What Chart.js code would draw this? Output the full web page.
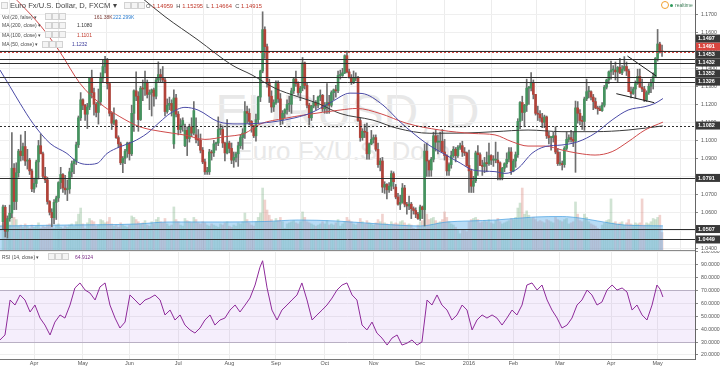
<!DOCTYPE html>
<html>
<head>
<meta charset="utf-8">
<script src="https://cdn.jsdelivr.net/npm/chart.js@4.4.1/dist/chart.umd.min.js"></script>
<style>
  html, body { margin: 0; padding: 0; background: #fff; }
  body { width: 720px; height: 366px; position: relative; overflow: hidden; font-family: "Liberation Sans", Arial, sans-serif; }
  canvas { position: absolute; left: 0; z-index: 1; }
  #main { top: 0; }
  #rsi { top: 251px; }
  .wm { position: absolute; left: 0; width: 695px; text-align: center; color: #e8e8e8; white-space: nowrap; line-height: 1; z-index: 0; }
  .lg { position: absolute; white-space: nowrap; color: #4a4a4a; z-index: 2; font-size: 5px; line-height: 6px; }
  .ib { position: absolute; width: 5px; height: 5px; border: 1px solid #d2d2d2; background: #f4f4f4; z-index: 2; }
</style>
</head>
<body>
<div class="wm" style="top:88px;font-size:48px;">EURUSD, D</div>
<div class="wm" style="top:138px;font-size:26px;">Euro Fx/U.S. Dollar</div>

<canvas id="main" width="720" height="251"></canvas>
<canvas id="rsi" width="720" height="115"></canvas>

<!-- legend -->
<div class="ib" style="left:1px;top:2px;"></div>
<div class="lg" style="left:10px;top:1px;font-size:7.6px;line-height:10px;color:#444;">Euro Fx/U.S. Dollar, D, FXCM ▾</div>
<div class="ib" style="left:124px;top:2px;"></div><div class="ib" style="left:131px;top:2px;"></div><div class="ib" style="left:138px;top:2px;"></div>
<div class="lg" style="left:146px;top:2.5px;font-size:5.8px;line-height:7px;">O <span style="color:#c0392b">1.14959</span>&nbsp; H <span style="color:#c0392b">1.15295</span>&nbsp; L <span style="color:#c0392b">1.14664</span>&nbsp; C <span style="color:#c0392b">1.14915</span></div>

<div class="lg" style="left:2px;top:13.7px;">Vol (20, false) ▾</div>
<div class="ib" style="left:45px;top:13.2px;"></div><div class="ib" style="left:52px;top:13.2px;"></div><div class="ib" style="left:59px;top:13.2px;"></div>
<div class="lg" style="left:94px;top:13.7px;color:#7a3b36;">161.38K</div>
<div class="lg" style="left:113px;top:13.7px;color:#2f7fd0;">222.299K</div>

<div class="lg" style="left:2px;top:22.3px;">MA (200, close) ▾</div>
<div class="ib" style="left:45px;top:21.8px;"></div><div class="ib" style="left:52px;top:21.8px;"></div><div class="ib" style="left:59px;top:21.8px;"></div>
<div class="lg" style="left:77px;top:22.3px;color:#333;">1.1080</div>

<div class="lg" style="left:2px;top:31.7px;">MA (100, close) ▾</div>
<div class="ib" style="left:45px;top:31.2px;"></div><div class="ib" style="left:52px;top:31.2px;"></div><div class="ib" style="left:59px;top:31.2px;"></div>
<div class="lg" style="left:77px;top:31.7px;color:#c0392b;">1.1101</div>

<div class="lg" style="left:2px;top:41px;">MA (50, close) ▾</div>
<div class="ib" style="left:42px;top:40.5px;"></div><div class="ib" style="left:49px;top:40.5px;"></div><div class="ib" style="left:56px;top:40.5px;"></div>
<div class="lg" style="left:72px;top:41px;color:#3a3a9a;">1.1232</div>

<div class="lg" style="left:2px;top:253.7px;">RSI (14, close) ▾</div>
<div class="ib" style="left:48px;top:253.2px;"></div><div class="ib" style="left:55px;top:253.2px;"></div><div class="ib" style="left:62px;top:253.2px;"></div>
<div class="lg" style="left:75px;top:253.7px;color:#7b2b86;">64.9124</div>

<div style="position:absolute;left:661px;top:1px;width:6px;height:6px;border:1px solid #f0a030;border-radius:50%;z-index:2;"></div>
<div style="position:absolute;left:670px;top:3.5px;width:3px;height:3px;background:#2e9a5c;border-radius:50%;z-index:2;"></div>
<div class="lg" style="left:675px;top:2px;color:#3f7f5a;font-size:5px;">realtime</div>

<script>
// EUR/USD daily, 12 Mar 2015 .. 4 May 2016 (one line per month)
const opens = [
  1.0548,1.0628,1.0495,1.0565,1.0595,1.0845,1.0660,1.0820,1.0940,1.0915,1.0965,1.0885,1.0890,1.0830,
  1.0730,1.0760,1.0880,1.0970,1.0925,1.0800,1.0780,1.0660,1.0600,1.0570,1.0655,1.0680,1.0765,1.0810,1.0735,1.0725,1.0730,1.0825,1.0870,1.0885,1.0975,1.1125,
  1.1225,1.1195,1.1145,1.1185,1.1345,1.1265,1.1200,1.1155,1.1215,1.1345,1.1410,1.1445,1.1315,1.1150,1.1095,1.1110,1.1015,1.0980,1.0875,1.0900,1.0940,
  1.0985,1.0925,1.1150,1.1275,1.1245,1.1115,1.1290,1.1285,1.1320,1.1255,1.1265,1.1280,1.1245,1.1335,1.1365,1.1350,1.1335,1.1160,1.1195,1.1205,1.0980,1.1235,
  1.1145,1.1060,1.1085,1.0970,1.1055,1.1010,1.1075,1.1040,1.1030,1.1005,1.1000,1.0945,1.0880,1.0825,1.0825,1.0935,1.0930,1.0980,1.0985,1.1060,1.1060,1.0985,1.0930,
  1.0985,1.0955,1.0890,1.0905,1.0925,1.0970,1.1015,1.1040,1.1160,1.1150,1.1105,1.1080,1.1025,1.1115,1.1240,1.1385,1.1615,1.1520,1.1320,1.1245,1.1185,
  1.1210,1.1315,1.1230,1.1115,1.1150,1.1170,1.1200,1.1200,1.1275,1.1340,1.1315,1.1265,1.1290,1.1430,1.1305,1.1195,1.1125,1.1190,1.1210,1.1195,1.1240,1.1250,
  1.1175,1.1195,1.1210,1.1195,1.1265,1.1280,1.1275,1.1360,1.1360,1.1375,1.1470,1.1380,1.1350,1.1320,1.1345,1.1345,1.1110,1.1015,1.1050,1.1045,1.0925,1.0980,
  1.1005,1.1015,1.0950,1.0865,1.0885,1.0740,1.0755,1.0725,1.0745,1.0815,1.0740,1.0685,1.0645,1.0655,1.0735,1.0645,1.0635,1.0645,1.0620,1.0610,1.0590,
  1.0565,1.0630,1.0615,1.0940,1.0885,1.0835,1.0895,1.1025,1.0990,1.0990,1.0995,1.0935,1.0915,1.0830,1.0865,1.0915,1.0950,1.0915,1.0960,1.0970,1.0935,1.0930,
  1.0860,1.0830,1.0745,1.0775,1.0930,1.0920,1.0860,1.0855,1.0875,1.0870,1.0915,1.0890,1.0890,1.0890,1.0875,1.0795,1.0845,1.0870,1.0895,1.0935,
  1.0830,1.0885,1.0920,1.1105,1.1210,1.1155,1.1195,1.1290,1.1290,1.1320,1.1255,1.1150,1.1145,1.1125,1.1100,1.1130,1.1025,1.1015,1.1015,1.1025,1.0935,
  1.0870,1.0870,1.0865,1.0955,1.1005,1.1015,1.1005,1.0995,1.1180,1.1150,1.1110,1.1105,1.1230,1.1270,1.1270,1.1240,1.1215,1.1180,1.1175,1.1165,1.1195,1.1295,1.1335,
  1.1380,1.1390,1.1390,1.1380,1.1405,1.1375,1.1395,1.1410,1.1385,1.1270,1.1260,1.1285,1.1315,1.1355,1.1295,1.1285,1.1225,1.1265,1.1300,1.1320,1.1355,
  1.1455,1.1535,1.14959
];
const highs = [
  1.0640,1.0638,1.0580,1.0640,1.1043,1.0870,1.0875,1.0950,1.1030,1.0985,1.1050,1.0950,1.0900,1.0840,
  1.0790,1.0890,1.1000,1.1035,1.0935,1.0850,1.0795,1.0665,1.0620,1.0670,1.0690,1.0770,1.0850,1.0815,1.0805,1.0780,1.0845,1.0885,1.0895,1.0990,1.1135,1.1265,
  1.1230,1.1200,1.1205,1.1350,1.1390,1.1290,1.1210,1.1285,1.1375,1.1445,1.1467,1.1455,1.1320,1.1155,1.1180,1.1115,1.1025,1.0990,1.0910,1.0950,1.0990,
  1.0990,1.1195,1.1280,1.1380,1.1270,1.1300,1.1335,1.1385,1.1335,1.1280,1.1285,1.1290,1.1350,1.1436,1.1395,1.1410,1.1345,1.1230,1.1240,1.1225,1.1280,1.1255,
  1.1160,1.1120,1.1125,1.1090,1.1075,1.1090,1.1125,1.1215,1.1125,1.1060,1.1035,1.0960,1.0895,1.0850,1.0950,1.0945,1.1000,1.0990,1.1130,1.1090,1.1080,1.0990,1.1115,
  1.0995,1.0985,1.0935,1.0935,1.0990,1.1030,1.1065,1.1215,1.1190,1.1175,1.1110,1.1085,1.1145,1.1245,1.1390,1.1714,1.1630,1.1535,1.1340,1.1275,1.1225,
  1.1330,1.1330,1.1260,1.1165,1.1175,1.1225,1.1245,1.1290,1.1345,1.1385,1.1325,1.1300,1.1460,1.1435,1.1320,1.1205,1.1195,1.1250,1.1220,1.1245,1.1280,1.1255,
  1.1210,1.1315,1.1250,1.1275,1.1285,1.1305,1.1385,1.1390,1.1400,1.1475,1.1495,1.1395,1.1365,1.1385,1.1375,1.1355,1.1125,1.1065,1.1090,1.1095,1.0985,1.1055,
  1.1030,1.1030,1.0985,1.0900,1.0905,1.0770,1.0760,1.0765,1.0830,1.0825,1.0755,1.0705,1.0695,1.0760,1.0750,1.0655,1.0690,1.0655,1.0630,1.0625,1.0600,
  1.0640,1.0635,1.0980,1.0985,1.0890,1.0905,1.1045,1.1060,1.1030,1.1045,1.1060,1.1005,1.0920,1.0875,1.0940,1.0965,1.0960,1.0970,1.0985,1.0995,1.0960,1.0935,
  1.0945,1.0840,1.0800,1.0940,1.0970,1.0930,1.0890,1.0905,1.0935,1.0985,1.0920,1.0915,1.0990,1.0935,1.0880,1.0850,1.0875,1.0930,1.0960,1.0960,
  1.0895,1.0935,1.1120,1.1215,1.1245,1.1200,1.1340,1.1300,1.1376,1.1335,1.1255,1.1190,1.1165,1.1150,1.1140,1.1135,1.1045,1.1020,1.1045,1.1075,1.0955,
  1.0935,1.0885,1.0965,1.1045,1.1030,1.1055,1.1045,1.1218,1.1215,1.1170,1.1135,1.1240,1.1340,1.1300,1.1275,1.1255,1.1235,1.1190,1.1190,1.1210,1.1305,1.1340,1.1385,
  1.1440,1.1415,1.1435,1.1410,1.1455,1.1415,1.1465,1.1435,1.1395,1.1295,1.1295,1.1330,1.1395,1.1395,1.1340,1.1300,1.1275,1.1315,1.1340,1.1375,1.1460,
  1.1616,1.1545,1.15295
];
const lows = [
  1.0505,1.0463,1.0457,1.0550,1.0570,1.0615,1.0615,1.0795,1.0885,1.0890,1.0860,1.0840,1.0810,1.0715,
  1.0710,1.0740,1.0785,1.0925,1.0790,1.0765,1.0645,1.0585,1.0520,1.0535,1.0560,1.0660,1.0730,1.0710,1.0700,1.0665,1.0705,1.0795,1.0815,1.0865,1.0960,1.1110,
  1.1170,1.1110,1.1065,1.1170,1.1235,1.1140,1.1130,1.1090,1.1195,1.1325,1.1375,1.1285,1.1135,1.1060,1.1085,1.1010,1.0960,1.0865,1.0820,1.0870,1.0905,
  1.0890,1.0915,1.1050,1.1220,1.1050,1.1110,1.1220,1.1250,1.1235,1.1170,1.1135,1.1190,1.1230,1.1320,1.1320,1.1320,1.1135,1.1150,1.1170,1.1135,1.0955,1.1130,
  1.1030,1.1040,1.1050,1.0965,1.0915,1.0990,1.1020,1.1030,1.0985,1.0970,1.0930,1.0870,1.0810,1.0810,1.0810,1.0890,1.0910,1.0945,1.0970,1.1030,1.0960,1.0885,1.0925,
  1.0930,1.0870,1.0850,1.0880,1.0855,1.0955,1.0950,1.1010,1.1095,1.1085,1.1045,1.1015,1.0995,1.1095,1.1215,1.1375,1.1455,1.1295,1.1210,1.1155,1.1160,
  1.1200,1.1210,1.1085,1.1090,1.1125,1.1145,1.1160,1.1150,1.1260,1.1300,1.1250,1.1220,1.1275,1.1285,1.1180,1.1085,1.1110,1.1180,1.1170,1.1180,1.1220,1.1160,
  1.1150,1.1150,1.1150,1.1185,1.1225,1.1240,1.1265,1.1340,1.1355,1.1370,1.1375,1.1345,1.1310,1.1315,1.1330,1.1105,1.0995,1.1000,1.1015,1.0895,1.0895,1.0975,
  1.0985,1.0940,1.0850,1.0830,1.0710,1.0705,1.0675,1.0710,1.0720,1.0730,1.0675,1.0640,1.0615,1.0650,1.0630,1.0590,1.0615,1.0565,1.0590,1.0570,1.0560,
  1.0555,1.0565,1.0524,1.0800,1.0800,1.0800,1.0880,1.0940,1.0925,1.0940,1.0935,1.0890,1.0805,1.0805,1.0845,1.0905,1.0880,1.0905,1.0950,1.0910,1.0915,1.0855,
  1.0710,1.0710,1.0710,1.0765,1.0805,1.0860,1.0805,1.0820,1.0825,1.0860,1.0865,1.0855,1.0875,1.0780,1.0780,1.0780,1.0825,1.0850,1.0880,1.0810,
  1.0825,1.0850,1.0905,1.1065,1.1110,1.1075,1.1160,1.1200,1.1275,1.1230,1.1140,1.1110,1.1105,1.1070,1.1070,1.1010,1.0980,1.0945,1.0990,1.0925,1.0860,
  1.0860,1.0835,1.0850,1.0945,1.0990,1.0990,1.0965,1.0822,1.1095,1.1085,1.1060,1.1055,1.1220,1.1235,1.1225,1.1170,1.1175,1.1145,1.1165,1.1160,1.1185,1.1285,1.1315,
  1.1340,1.1365,1.1335,1.1325,1.1370,1.1365,1.1385,1.1360,1.1270,1.1235,1.1255,1.1235,1.1310,1.1295,1.1270,1.1215,1.1215,1.1255,1.1265,1.1285,1.1350,
  1.1440,1.1485,1.14664
];
const closes = [
  1.0630,1.0495,1.0565,1.0595,1.0845,1.0660,1.0820,1.0940,1.0915,1.0965,1.0885,1.0890,1.0830,1.0730,
  1.0760,1.0880,1.0970,1.0925,1.0800,1.0780,1.0660,1.0600,1.0570,1.0655,1.0680,1.0765,1.0810,1.0735,1.0725,1.0730,1.0825,1.0870,1.0885,1.0975,1.1125,1.1225,
  1.1195,1.1145,1.1185,1.1345,1.1265,1.1200,1.1155,1.1215,1.1345,1.1410,1.1445,1.1315,1.1150,1.1095,1.1110,1.1015,1.0980,1.0875,1.0900,1.0940,1.0985,
  1.0925,1.1150,1.1275,1.1245,1.1115,1.1290,1.1285,1.1320,1.1255,1.1265,1.1280,1.1245,1.1335,1.1365,1.1350,1.1335,1.1160,1.1195,1.1205,1.1165,1.1235,1.1145,
  1.1060,1.1085,1.1110,1.1055,1.1010,1.1075,1.1040,1.1165,1.1005,1.1000,1.0945,1.0880,1.0825,1.0825,1.0935,1.0930,1.0980,1.0985,1.1060,1.1060,1.0985,1.0930,1.0985,
  1.0955,1.0890,1.0905,1.0925,1.0970,1.1015,1.1040,1.1160,1.1150,1.1105,1.1080,1.1025,1.1115,1.1240,1.1385,1.1615,1.1520,1.1320,1.1245,1.1185,1.1210,
  1.1315,1.1230,1.1115,1.1150,1.1170,1.1200,1.1200,1.1275,1.1340,1.1315,1.1265,1.1290,1.1430,1.1305,1.1195,1.1125,1.1190,1.1210,1.1195,1.1240,1.1250,1.1175,
  1.1195,1.1210,1.1195,1.1265,1.1280,1.1275,1.1360,1.1360,1.1375,1.1470,1.1380,1.1350,1.1320,1.1345,1.1345,1.1110,1.1015,1.1050,1.1045,1.0925,1.0980,1.1005,
  1.1015,1.0950,1.0865,1.0885,1.0740,1.0755,1.0725,1.0745,1.0815,1.0770,1.0685,1.0645,1.0655,1.0735,1.0645,1.0635,1.0645,1.0620,1.0610,1.0590,1.0565,
  1.0630,1.0615,1.0940,1.0885,1.0835,1.0895,1.1025,1.0990,1.0990,1.0995,1.0935,1.0915,1.0830,1.0865,1.0915,1.0950,1.0915,1.0960,1.0970,1.0935,1.0930,1.0860,
  1.0830,1.0745,1.0775,1.0930,1.0920,1.0860,1.0855,1.0875,1.0870,1.0915,1.0890,1.0890,1.0890,1.0875,1.0795,1.0845,1.0870,1.0895,1.0935,1.0830,
  1.0885,1.0920,1.1105,1.1210,1.1155,1.1195,1.1290,1.1290,1.1320,1.1255,1.1150,1.1145,1.1125,1.1100,1.1130,1.1025,1.1015,1.1015,1.1025,1.0935,1.0870,
  1.0870,1.0865,1.0955,1.1005,1.1015,1.1005,1.0995,1.1180,1.1150,1.1110,1.1105,1.1230,1.1270,1.1270,1.1240,1.1215,1.1180,1.1175,1.1165,1.1195,1.1295,1.1335,1.1380,
  1.1390,1.1390,1.1380,1.1405,1.1375,1.1395,1.1410,1.1385,1.1270,1.1260,1.1285,1.1315,1.1355,1.1295,1.1285,1.1225,1.1265,1.1300,1.1320,1.1355,1.1455,
  1.1535,1.1496,1.14915
];
// volume in thousands
const volumes = [
  240,260,250,230,330,300,280,220,230,210,240,220,200,230,
  210,220,250,200,220,210,230,240,220,200,230,240,210,200,220,210,230,240,220,260,330,386,
  240,200,250,290,270,260,220,230,280,270,250,260,300,240,220,230,210,250,230,220,210,
  230,313,300,280,260,240,250,270,230,220,260,240,280,300,260,250,290,240,220,230,396,280,
  260,230,220,290,270,260,250,300,280,250,240,260,250,230,220,240,230,220,210,240,230,250,260,
  220,210,230,220,250,240,260,340,280,250,230,220,260,300,340,570,460,368,320,280,260,
  290,270,300,260,200,240,250,260,270,250,240,260,350,300,260,250,240,230,220,230,240,260,
  240,270,230,240,230,250,280,220,240,260,300,276,260,240,230,250,290,260,240,270,250,240,
  230,250,280,260,330,250,240,230,260,240,250,240,260,270,250,230,240,230,200,190,230,
  260,270,414,330,280,290,300,270,250,260,280,350,300,260,240,230,210,180,150,190,180,170,
  260,280,290,300,280,250,260,270,260,280,250,240,270,290,260,240,250,260,270,290,
  280,300,386,432,570,330,360,320,290,300,280,260,270,260,250,280,270,260,250,300,280,
  270,260,280,290,240,250,260,442,330,270,260,330,300,260,240,230,220,200,190,230,250,270,280,
  470,250,260,240,250,260,230,250,280,240,230,250,240,250,470,230,250,240,260,290,280,
  300,320,161
];
// [bar index, value]
const volMA = [[-1.4,221],[30,230],[60,239],[75,258],[99,258],[118,262],[133,276],[150,267],[170,239],[188,221],[200,258],[210,267],[222,276],[240,304],[252,308],[260,294],[268,267],[280,230],[297.4,222]];
const ma50 = [[-1.4,1.1391],[3.2,1.1298],[7.7,1.1205],[13.5,1.1094],[21.2,1.0983],[28.8,1.0927],[33.3,1.0881],[37.9,1.0866],[42.4,1.0872],[46.9,1.0927],[52.7,1.0964],[58.6,1.0992],[64.9,1.1038],[70.8,1.1103],[75.3,1.1149],[82,1.1183],[87.9,1.1168],[96.9,1.1104],[105.9,1.1091],[114.9,1.1094],[122.6,1.1104],[131.6,1.1125],[139.3,1.1155],[148.3,1.1215],[156.4,1.1262],[161.8,1.1260],[171.2,1.1196],[178.9,1.1103],[184.8,1.1040],[191.1,1.0980],[196.9,1.0937],[206,1.0874],[211.8,1.0835],[221.7,1.0826],[226.2,1.0816],[232.1,1.0844],[238.4,1.0928],[244.3,1.0965],[251.9,1.0974],[259.1,1.0992],[266.8,1.1039],[274.5,1.1113],[281.7,1.1168],[289.3,1.1187],[293.8,1.1205],[297.4,1.1232]];
const ma100 = [[3,1.1820],[16.7,1.1640],[25.7,1.1490],[34.7,1.1316],[43.7,1.1205],[52.7,1.1131],[61.7,1.1075],[70.8,1.1050],[82,1.1029],[91,1.1005],[100,1.1020],[109,1.1039],[115.8,1.1090],[127,1.1122],[136,1.1141],[151.9,1.1168],[159.5,1.1177],[169.9,1.1149],[182,1.1094],[196.9,1.1057],[211.8,1.1038],[221.7,1.1030],[229.4,1.0992],[236.6,1.0968],[244.3,1.0968],[251.9,1.0946],[259.1,1.0928],[266.8,1.0918],[274.5,1.0937],[281.7,1.0992],[289.3,1.1057],[297.4,1.1101]];
const ma200 = [[61.7,1.1800],[73,1.1687],[87.9,1.1557],[103.2,1.1418],[112.2,1.1363],[122.6,1.1289],[132.9,1.1242],[142,1.1205],[151.9,1.1149],[166.7,1.1112],[177.6,1.1067],[192.4,1.1039],[207.3,1.1040],[221.7,1.1048],[236.6,1.1057],[251.9,1.1048],[266.8,1.1048],[281.7,1.1057],[297.4,1.1080]];
const rsi = [[-1.4,31.6],[0.9,35.5],[3.2,62.6],[5.4,58.7],[7.7,66.5],[9.9,62.6],[12.2,53.3],[14.4,58.7],[16.7,48.6],[18.9,43.2],[21.2,35.5],[23.4,45.5],[25.7,51.0],[27.9,48.6],[30.2,58.7],[32.4,71.9],[34.7,75.8],[37,70.3],[39.2,68.0],[41.5,62.6],[43.7,72.7],[46,75.8],[48.2,58.7],[50.5,48.6],[52.7,40.9],[55,45.5],[57.2,66.5],[59.5,62.6],[61.7,58.7],[64,62.6],[66.2,64.1],[68.5,66.5],[70.8,62.6],[73,51.0],[75.3,54.8],[77.5,47.1],[79.8,51.0],[82,43.2],[84.3,39.4],[86.5,37.0],[88.8,40.9],[91,47.1],[93.3,51.0],[95.5,43.2],[97.8,47.1],[100,48.6],[102.3,54.8],[104.6,58.7],[106.8,53.3],[109.1,58.7],[111.3,64.1],[113.6,74.2],[115.8,88.0],[117,93.0],[119,72.0],[121.2,54.8],[123.5,47.1],[125.7,54.8],[128,58.7],[130.2,62.6],[132.5,66.5],[134.7,75.8],[137,62.6],[139.3,47.1],[141.5,51.0],[143.8,54.8],[146,58.7],[148.3,64.1],[150.5,70.3],[152.8,74.2],[155,75.8],[157.3,66.5],[159.5,62.6],[161.8,43.2],[164,39.4],[166.3,45.5],[168.5,37.0],[170.8,33.1],[173.1,27.7],[175.3,33.1],[177.6,35.5],[179.8,27.7],[182.1,29.2],[184.3,31.6],[186.6,27.7],[188.8,30.1],[191.1,62.6],[193.3,58.7],[195.6,66.5],[197.8,58.7],[200.1,54.8],[202.3,47.1],[204.6,51.0],[206.9,58.7],[209.1,54.8],[211.4,39.4],[213.6,47.1],[215.9,51.0],[218.1,48.6],[220.4,51.0],[222.6,48.6],[224.9,43.2],[227.1,48.6],[229.4,54.8],[231.6,51.0],[233.9,58.7],[236.1,74.2],[238.4,75.8],[240.7,70.3],[242.9,74.2],[245.2,62.6],[247.4,54.8],[249.7,48.6],[251.9,40.9],[254.2,43.2],[256.4,48.6],[258.7,58.7],[260.9,62.6],[263.2,70.3],[265.4,66.5],[267.7,58.7],[269.9,61.0],[272.2,70.3],[274.5,74.2],[276.7,70.3],[279,71.9],[281.2,68.8],[283.5,54.8],[285.7,58.7],[288,51.0],[290.2,47.1],[292.5,58.7],[294.7,74.2],[296.1,71.0],[297.4,64.9]];

const levels = [1.1497, 1.1453, 1.1432, 1.1352, 1.1326, 1.1082, 1.0791, 1.0507, 1.0449];
const dottedLevel = 1.1082;
const lastPrice = 1.1491;
const trendUpper = [[281.4, 1.1468], [294.4, 1.1357]];
const trendLower = [[276.4, 1.1259], [293.5, 1.1209]];
const priceTicks = [1.04,1.05,1.06,1.07,1.08,1.09,1.10,1.11,1.12,1.13,1.14,1.15,1.16,1.17];
const rsiTicks = [20,30,40,50,60,70,80,90,100];
const monthNames = ["Jan","Feb","Mar","Apr","May","Jun","Jul","Aug","Sep","Oct","Nov","Dec"];

// trading days (no weekends, no Christmas / New Year)
const holidays = ["2015-12-25", "2016-01-01"];
const dates = [];
let d = new Date(Date.UTC(2015, 2, 12));
while (dates.length < closes.length) {
  const s = d.toISOString().slice(0, 10);
  const wd = d.getUTCDay();
  if (wd !== 0 && wd !== 6 && !holidays.includes(s)) dates.push(s);
  d.setUTCDate(d.getUTCDate() + 1);
}
const monthTicks = [];
const monthLabels = [];
for (let i = 1; i < dates.length; i++) {
  if (dates[i].slice(5, 7) !== dates[i - 1].slice(5, 7)) {
    const m = +dates[i].slice(5, 7);
    monthTicks.push(i);
    monthLabels.push(m === 1 ? dates[i].slice(0, 4) : monthNames[m - 1]);
  }
}

const UP = '#45935f', DOWN = '#b2433a', WICK = '#6f6f6f';
const isUp = i => closes[i] >= opens[i];
const pts = arr => arr.map(p => ({ x: p[0], y: p[1] }));
const FONT = 'Liberation Sans';
const X_MIN = -1.35, X_MAX = 311.85;
const P_MIN = 1.039056, P_MAX = 1.177944;

const fitY = s => { s.width = 25; s.paddingTop = 0; s.paddingBottom = 0; };

const levelsPlugin = {
  id: 'levels',
  afterDatasetsDraw(chart) {
    const { ctx, chartArea: a, scales: { y } } = chart;
    ctx.save();
    ctx.beginPath();
    ctx.rect(a.left, a.top, a.width, a.height);
    ctx.clip();
    levels.forEach(v => {
      const py = Math.round(y.getPixelForValue(v)) + 0.5;
      ctx.strokeStyle = '#2e2e2e';
      ctx.lineWidth = 1;
      ctx.setLineDash(v === dottedLevel ? [2, 2] : []);
      ctx.beginPath();
      ctx.moveTo(a.left, py);
      ctx.lineTo(a.right, py);
      ctx.stroke();
    });
    const lp = Math.round(y.getPixelForValue(lastPrice)) + 0.5;
    ctx.strokeStyle = '#d9453f';
    ctx.setLineDash([2, 2]);
    ctx.beginPath();
    ctx.moveTo(a.left, lp);
    ctx.lineTo(a.right, lp);
    ctx.stroke();
    ctx.restore();
  },
  afterDraw(chart) {
    const { ctx, chartArea: a, scales: { y } } = chart;
    const tags = levels.map(v => ({ v, bg: '#383838' }));
    tags.push({ v: lastPrice, bg: '#d9453f' });
    tags.forEach(t => { t.py = y.getPixelForValue(t.v); });
    tags.sort((p, q) => q.py - p.py);
    for (let i = 1; i < tags.length; i++) tags[i].py = Math.min(tags[i].py, tags[i - 1].py - 8);
    ctx.save();
    ctx.font = 'bold 5.5px ' + FONT;
    ctx.textBaseline = 'middle';
    tags.forEach(t => {
      ctx.fillStyle = t.bg;
      ctx.fillRect(a.right + 1, t.py - 4, 24, 8);
      ctx.fillStyle = '#fff';
      ctx.fillText(t.v.toFixed(4), a.right + 3, t.py + 0.3);
    });
    ctx.restore();
  }
};

new Chart(document.getElementById('main'), {
  type: 'bar',
  data: {
    datasets: [
      { type: 'line', data: pts(trendUpper), borderColor: '#1e1e1e', borderWidth: 1, pointRadius: 0, order: 0 },
      { type: 'line', data: pts(trendLower), borderColor: '#1e1e1e', borderWidth: 1, pointRadius: 0, order: 0 },
      { type: 'line', data: pts(ma50), borderColor: '#4a4aa6', borderWidth: 1, pointRadius: 0, cubicInterpolationMode: 'monotone', order: 1 },
      { type: 'line', data: pts(ma100), borderColor: '#cf4a4a', borderWidth: 1, pointRadius: 0, cubicInterpolationMode: 'monotone', order: 1 },
      { type: 'line', data: pts(ma200), borderColor: '#3c3c3c', borderWidth: 1, pointRadius: 0, cubicInterpolationMode: 'monotone', order: 1 },
      { data: closes.map((c, i) => ({ x: i, y: [opens[i], c] })), backgroundColor: ctx => isUp(ctx.dataIndex) ? UP : DOWN,
        barThickness: 2, minBarLength: 1, grouped: false, order: 2 },
      { data: closes.map((c, i) => ({ x: i, y: [lows[i], highs[i]] })), backgroundColor: WICK,
        barThickness: 1, grouped: false, order: 3 },
      { type: 'line', yAxisID: 'vol', data: pts(volMA), fill: 'origin', backgroundColor: 'rgba(100,178,235,0.45)',
        borderColor: 'rgba(70,160,225,0.7)', borderWidth: 1, pointRadius: 0, cubicInterpolationMode: 'monotone', order: 4 },
      { yAxisID: 'vol', data: volumes.map((v, i) => ({ x: i, y: v })),
        backgroundColor: ctx => isUp(ctx.dataIndex) ? 'rgba(120,175,130,0.35)' : 'rgba(215,125,115,0.35)',
        barThickness: 2, grouped: false, order: 5 }
    ]
  },
  options: {
    responsive: false, animation: false, devicePixelRatio: 1,
    layout: { padding: 0 },
    plugins: { legend: { display: false }, tooltip: { enabled: false } },
    scales: {
      x: {
        type: 'linear', min: X_MIN, max: X_MAX, offset: false,
        afterBuildTicks: s => { s.ticks = monthTicks.map(v => ({ value: v })); },
        ticks: { display: false },
        grid: { color: '#ececec', drawTicks: false },
        border: { display: true, color: '#8a8a8a' },
        afterFit: s => { s.height = 1; s.paddingLeft = 0; s.paddingRight = 0; }
      },
      y: {
        position: 'right', min: P_MIN, max: P_MAX,
        afterBuildTicks: s => { s.ticks = priceTicks.map(v => ({ value: v })); },
        ticks: { callback: v => v.toFixed(4), font: { size: 5.2, family: FONT }, color: '#555', padding: 3 },
        grid: { color: '#efefef', tickLength: 3, tickColor: '#888' },
        border: { color: '#666' },
        afterFit: fitY
      },
      vol: { display: false, min: 0, max: 2300 }
    }
  },
  plugins: [levelsPlugin]
});

const bandPlugin = {
  id: 'band',
  beforeDatasetsDraw(chart) {
    const { ctx, chartArea: a, scales: { y } } = chart;
    const y70 = y.getPixelForValue(70), y30 = y.getPixelForValue(30);
    ctx.save();
    ctx.fillStyle = 'rgba(160,90,230,0.10)';
    ctx.fillRect(a.left, y70, a.width, y30 - y70);
    ctx.strokeStyle = '#b9b0c4';
    ctx.lineWidth = 1;
    [y70, y30].forEach(py => {
      ctx.beginPath();
      ctx.moveTo(a.left, Math.round(py) + 0.5);
      ctx.lineTo(a.right, Math.round(py) + 0.5);
      ctx.stroke();
    });
    ctx.restore();
  }
};

new Chart(document.getElementById('rsi'), {
  type: 'line',
  data: {
    datasets: [
      { data: pts(rsi), borderColor: '#8e2a9a', borderWidth: 1, pointRadius: 0, tension: 0 }
    ]
  },
  options: {
    responsive: false, animation: false, devicePixelRatio: 1,
    layout: { padding: 0 },
    plugins: { legend: { display: false }, tooltip: { enabled: false } },
    scales: {
      x: {
        type: 'linear', min: X_MIN, max: X_MAX, offset: false,
        afterBuildTicks: s => { s.ticks = monthTicks.map(v => ({ value: v })); },
        ticks: { callback: (v, i) => monthLabels[i], autoSkip: false, maxRotation: 0, padding: 1,
                 font: { size: 5.5, family: FONT }, color: '#555' },
        grid: { color: '#ececec', drawTicks: false },
        border: { display: true, color: '#777' },
        afterFit: s => { s.height = 7; s.paddingLeft = 0; s.paddingRight = 0; }
      },
      y: {
        position: 'right', min: 16.9, max: 100.54,
        afterBuildTicks: s => { s.ticks = rsiTicks.map(v => ({ value: v })); },
        ticks: { callback: v => v.toFixed(4), font: { size: 5.2, family: FONT }, color: '#555', padding: 3 },
        grid: { color: '#efefef', tickLength: 3, tickColor: '#888' },
        border: { color: '#666' },
        afterFit: fitY
      }
    }
  },
  plugins: [bandPlugin]
});
</script>
</body>
</html>
